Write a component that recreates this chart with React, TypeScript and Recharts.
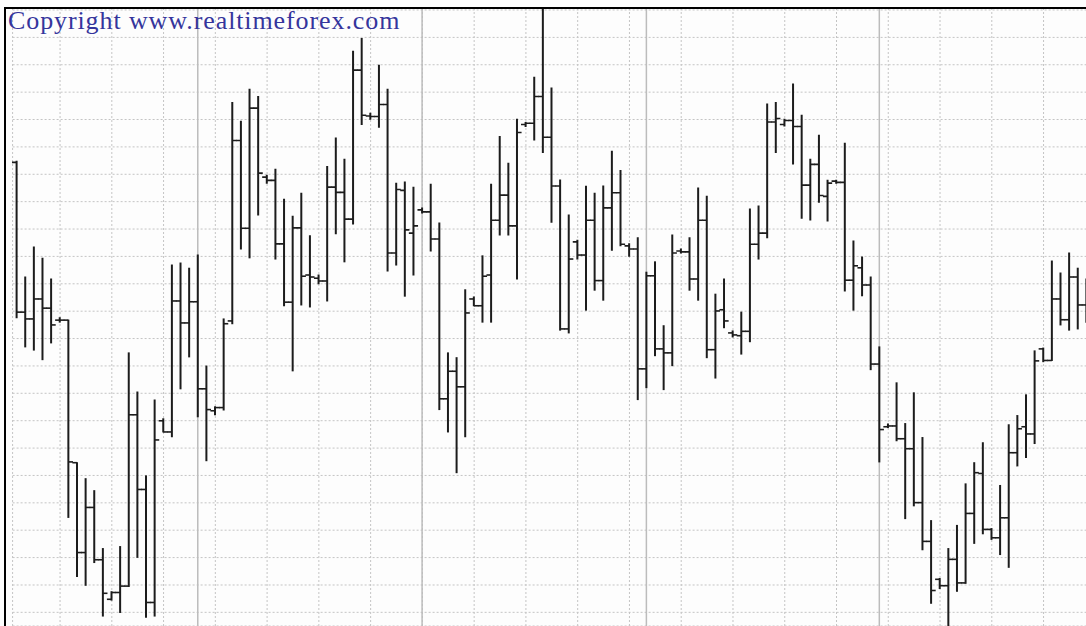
import { Bar, CartesianGrid, ComposedChart, XAxis, YAxis } from 'recharts';

// OHLC values, one entry per bar (left to right)
const opens = [
  111.92, 108.17, 108.0, 108.5, 108.27, 107.97, 107.97, 104.4, 102.15, 103.28,
  101.97, 100.98, 101.15, 101.31, 105.6, 103.73, 100.9, 105.45, 105.17, 108.45,
  107.9, 108.43, 106.25, 105.7, 105.78, 107.95, 112.47, 110.27, 113.28, 111.55,
  111.47, 109.88, 108.42, 110.28, 109.1, 109.02, 108.95, 111.3, 111.17, 110.5,
  114.23, 113.08, 113.07, 113.37, 109.65, 111.22, 110.15, 110.73, 110.68, 110.0,
  106.0, 106.69, 106.3, 108.5, 108.33, 109.1, 110.47, 111.1, 110.33, 112.87,
  112.9, 113.57, 112.55, 111.33, 107.75, 109.93, 109.6, 110.47, 108.96, 110.78,
  111.16, 109.83, 109.75, 106.75, 109.08, 107.25, 107.15, 109.7, 109.68, 109.0,
  110.47, 107.23, 108.23, 107.65, 107.58, 107.69, 109.87, 110.15, 112.93, 112.87,
  112.97, 112.82, 111.35, 111.87, 111.07, 111.45, 111.42, 108.97, 109.28, 108.85,
  106.87, 105.3, 105.32, 105.0, 104.75, 103.4, 102.43, 101.48, 101.32, 101.98,
  101.39, 103.13, 104.13, 102.73, 102.52, 103.02, 104.65, 105.3, 105.12, 107.25,
  106.96, 108.5, 107.98, 109.05, 108.35,
];
const highs = [
  111.95, 109.05, 109.8, 109.52, 109.0, 108.03, 107.97, 104.4, 104.0, 103.7,
  102.25, 101.17, 102.3, 107.15, 106.17, 104.07, 105.97, 105.5, 109.35, 109.4,
  109.27, 109.6, 106.82, 105.8, 108.0, 113.42, 112.95, 113.75, 113.57, 111.6,
  111.75, 111.0, 110.57, 111.15, 110.08, 109.1, 111.82, 112.53, 112.0, 114.7,
  115.02, 113.15, 114.35, 113.75, 111.4, 111.43, 111.3, 110.78, 111.37, 110.4,
  107.15, 107.03, 108.73, 108.55, 109.58, 111.37, 112.57, 111.9, 113.0, 112.92,
  114.05, 115.78, 113.78, 111.48, 110.6, 109.97, 111.32, 111.15, 111.33, 112.2,
  111.72, 109.88, 110.03, 109.17, 109.43, 107.83, 110.1, 109.75, 110.03, 111.28,
  111.07, 108.62, 109.0, 107.7, 108.17, 110.75, 110.83, 113.38, 113.42, 113.0,
  113.88, 113.1, 112.0, 112.6, 111.47, 111.47, 112.4, 109.95, 109.55, 109.05,
  107.3, 105.37, 106.4, 105.38, 106.15, 105.03, 102.95, 101.5, 102.25, 102.83,
  103.87, 104.4, 104.9, 102.75, 103.83, 105.35, 105.58, 106.1, 107.2, 107.27,
  109.45, 109.15, 109.65, 109.27, 109.0,
];
const lows = [
  108.03, 107.3, 107.22, 106.98, 107.4, 107.92, 103.03, 101.55, 101.33, 101.9,
  100.56, 100.96, 100.65, 101.3, 102.03, 100.53, 100.56, 105.17, 105.05, 106.25,
  107.05, 105.55, 104.45, 105.6, 105.72, 107.88, 109.75, 109.53, 110.6, 111.4,
  109.5, 108.33, 106.7, 108.35, 108.3, 108.88, 108.45, 110.13, 109.43, 110.38,
  112.87, 113.0, 112.8, 109.2, 109.35, 108.57, 109.1, 110.65, 109.7, 105.73,
  105.17, 104.15, 105.05, 108.33, 107.92, 107.92, 110.1, 110.1, 109.0, 112.82,
  112.48, 112.17, 110.42, 107.72, 107.65, 109.5, 108.22, 108.72, 108.47, 109.72,
  109.83, 109.57, 105.98, 106.28, 107.08, 106.23, 106.83, 109.65, 108.72, 108.47,
  107.03, 106.52, 107.78, 107.55, 107.12, 107.43, 109.5, 110.03, 112.17, 112.83,
  111.88, 110.52, 110.48, 110.92, 110.45, 111.4, 108.7, 108.22, 108.58, 106.73,
  104.42, 105.28, 104.95, 103.0, 103.32, 102.22, 100.88, 101.25, 100.32, 101.18,
  101.38, 102.38, 102.62, 102.48, 102.1, 101.78, 104.32, 104.53, 104.88, 106.93,
  106.96, 107.85, 107.72, 107.75, 107.92,
];
const closes = [
  108.17, 108.0, 108.5, 108.27, 107.85, 107.97, 104.42, 102.15, 103.28, 101.97,
  101.13, 101.15, 101.31, 105.6, 103.73, 100.9, 104.97, 105.17, 108.45, 107.9,
  108.43, 106.25, 105.73, 105.78, 107.88, 112.47, 110.27, 113.28, 111.65, 111.47,
  109.88, 108.42, 110.28, 109.07, 109.05, 108.95, 111.3, 111.17, 110.5, 114.23,
  113.1, 113.07, 113.37, 109.65, 111.24, 110.23, 110.33, 110.68, 110.0, 106.0,
  106.69, 106.3, 108.15, 108.33, 109.07, 110.47, 111.1, 110.33, 112.67, 112.9,
  113.57, 112.55, 111.33, 107.75, 109.5, 109.6, 110.47, 108.96, 110.78, 111.16,
  109.87, 109.75, 106.75, 109.08, 107.25, 107.15, 109.65, 109.68, 109.0, 110.47,
  107.23, 108.2, 107.95, 107.6, 107.69, 109.87, 110.15, 112.93, 113.02, 112.97,
  112.82, 111.35, 111.87, 111.09, 111.4, 111.42, 108.97, 109.33, 108.85, 106.87,
  105.23, 105.32, 105.0, 104.75, 103.4, 102.43, 101.2, 101.32, 101.98, 101.39,
  103.13, 104.15, 102.73, 102.52, 103.02, 104.65, 105.25, 105.12, 106.95, 106.96,
  108.5, 107.98, 109.05, 108.35, 108.25,
];

// hidden price levels for the dotted horizontal grid
const gridLevels = [
  115.736, 115.05, 114.365, 113.679, 112.994, 112.308, 111.622, 110.937, 110.251,
  109.566, 108.88, 108.194, 107.509, 106.823, 106.138, 105.452, 104.766, 104.081,
  103.395, 102.71, 102.024, 101.338, 100.653,
];
// bars that carry a dotted vertical grid line
const gridBars = [5, 11, 17, 23, 29, 35, 41, 47, 53, 59, 65, 71, 77, 83, 89, 95, 101, 107, 113, 119];
// bars where a new session starts (solid separators)
const sessionBars = [21, 47, 73, 100];

const bars = opens.map((open, i) => ({
  i,
  open,
  high: highs[i],
  low: lows[i],
  close: closes[i],
  range: [lows[i], highs[i]],
}));

function OhlcShape(props: any) {
  const { x, y, width, height, background } = props;
  const d = props.payload ?? props;
  if (x == null || y == null) return null;
  const top = Math.min(y, y + height);
  const h = Math.abs(height);
  const cx = x + width / 2;
  const span = d.high - d.low;
  const py = (v: number) => (span > 0 ? top + ((d.high - v) / span) * h : top);
  const sep = sessionBars.includes(d.i) && background;
  return (
    <g>
      {sep && (
        <line
          x1={cx}
          x2={cx}
          y1={background.y}
          y2={background.y + background.height}
          stroke="#bcbcbc"
          strokeWidth={1.5}
        />
      )}
      <g stroke="#1c1c1c">
        <line x1={cx} x2={cx} y1={top - 0.5} y2={top + h + 0.5} strokeWidth={2} />
        <line x1={cx - 4.6} x2={cx} y1={py(d.open)} y2={py(d.open)} strokeWidth={1.6} />
        <line x1={cx} x2={cx + 4.6} y1={py(d.close)} y2={py(d.close)} strokeWidth={1.6} />
      </g>
    </g>
  );
}

export default function App() {
  return (
    <div
      style={{
        position: 'absolute',
        left: 0,
        top: 0,
        width: 1086,
        height: 626,
        overflow: 'hidden',
        background: '#fdfdfd',
      }}
    >
      <ComposedChart
        width={1091}
        height={626}
        data={bars}
        margin={{ top: 8, right: 0, bottom: 0, left: 12.6 }}
        barCategoryGap={0}
      >
        <CartesianGrid stroke="#c4c4c4" strokeDasharray="2 2" />
        <XAxis dataKey="i" type="category" hide ticks={gridBars} interval={0} />
        <YAxis hide type="number" domain={[100.311, 115.786]} ticks={gridLevels} allowDataOverflow />
        <Bar dataKey="range" barSize={6} shape={<OhlcShape />} isAnimationActive={false} />
      </ComposedChart>
      <div style={{ position: 'absolute', left: 4, top: 7, width: 1082, height: 2, background: '#000' }} />
      <div style={{ position: 'absolute', left: 4, top: 7, width: 2, height: 619, background: '#000' }} />
      <div
        style={{
          position: 'absolute',
          left: 8,
          top: 7.5,
          fontFamily: '"Liberation Serif", "Times New Roman", serif',
          fontSize: 26,
          lineHeight: '26px',
          letterSpacing: 0.9,
          color: '#35359c',
          whiteSpace: 'nowrap',
        }}
      >
        Copyright www.realtimeforex.com
      </div>
    </div>
  );
}
